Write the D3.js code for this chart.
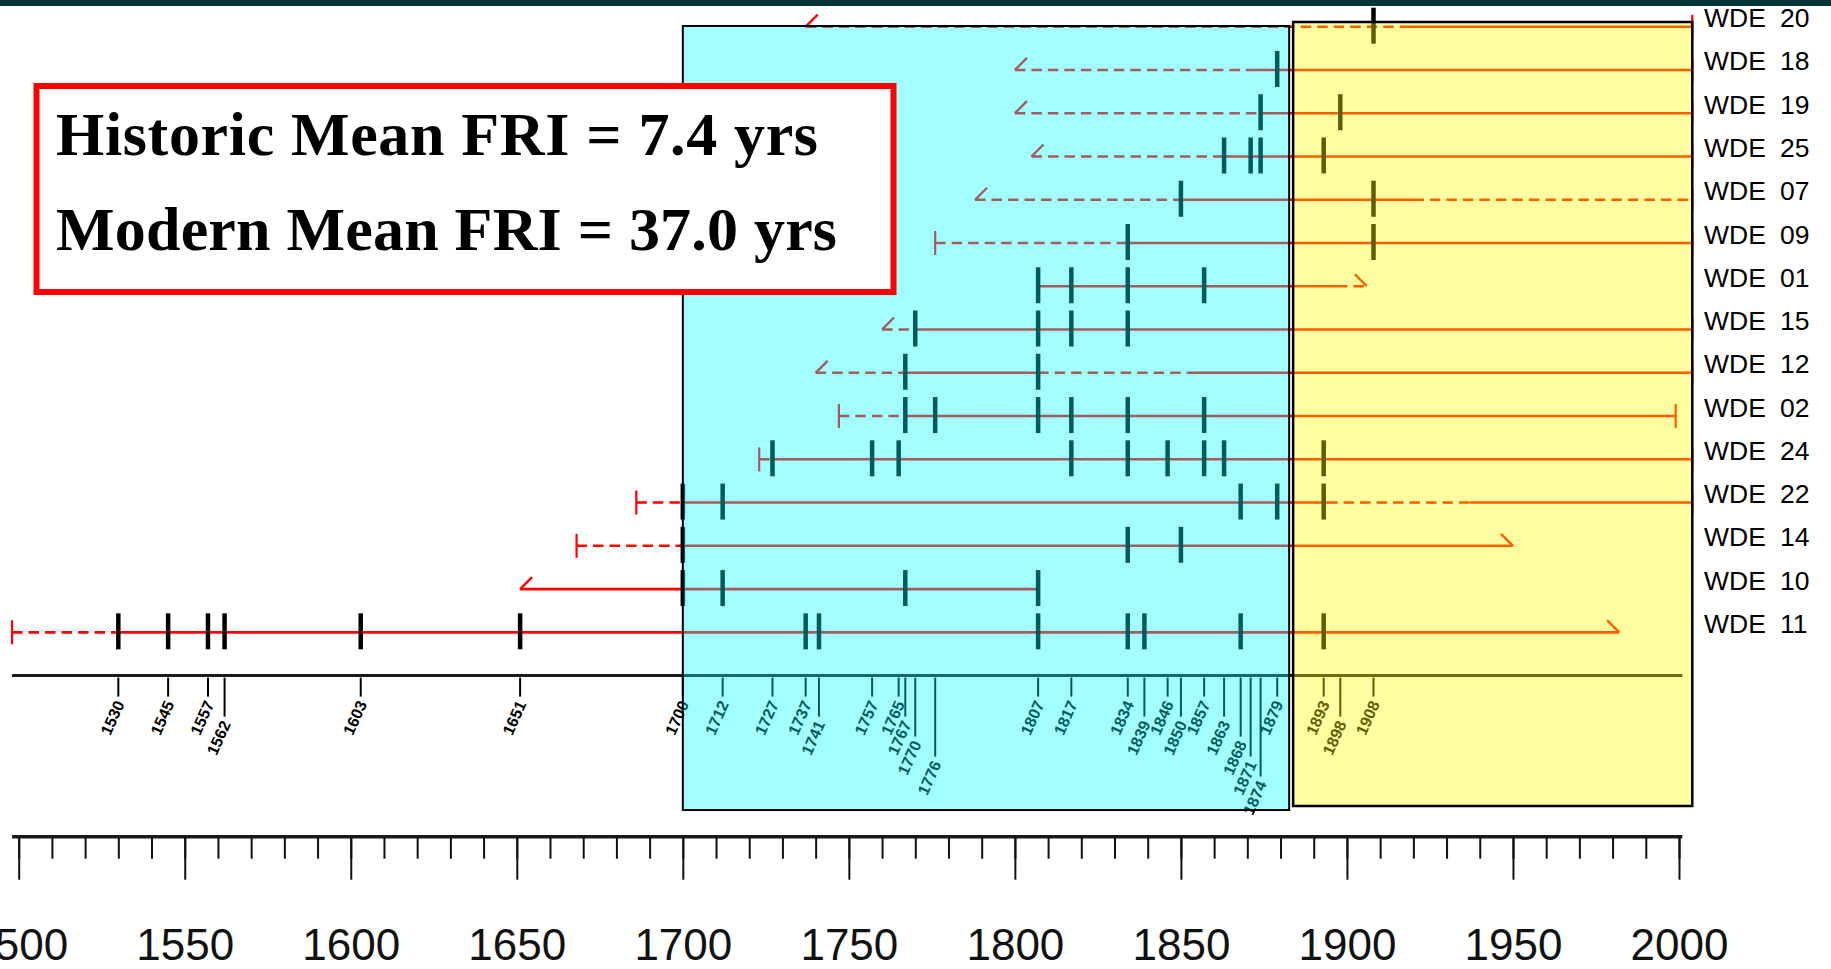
<!DOCTYPE html>
<html>
<head>
<meta charset="utf-8">
<script src="https://cdn.jsdelivr.net/npm/d3@7"></script>
<style>
  html, body { margin: 0; padding: 0; background: #ffffff; }
  svg { display: block; }
</style>
</head>
<body>
<svg id="chart" width="1831" height="969"></svg>
<script>
// ---------------- DATA ----------------
const series = ["20", "18", "19", "25", "07", "09", "01", "15", "12", "02", "24", "22", "14", "10", "11"];
const seriesPrefix = "WDE";

const innerYear = [1737, 1800, 1800, 1805, 1788, 1776, 1807, 1760, 1740, 1747, 1723, 1686, 1668, 1651, 1498];
const innerType = ["inner", "inner", "inner", "inner", "inner", "pith", "none", "inner", "inner", "pith", "pith", "pith", "pith", "inner", "pith"];
const outerYear = [2004, 2004, 2004, 2004, 2004, 2004, 1906, 2004, 2004, 1999, 2004, 2004, 1950, 1807, 1982];
const outerType = ["bark", "bark", "bark", "bark", "bark", "bark", "outer", "bark", "bark", "bark", "bark", "bark", "outer", "none", "outer"];

// non-recording (dashed) spans, per series
const nullSpans = [
  [[1737, 1918]],
  [[1800, 1872]],
  [[1800, 1874]],
  [[1805, 1863]],
  [[1788, 1850], [1920, 2004]],
  [[1776, 1834]],
  [[1897, 1906]],
  [[1760, 1770]],
  [[1740, 1767], [1807, 1852]],
  [[1747, 1767]],
  [[1723, 1727]],
  [[1686, 1700], [1894, 1937]],
  [[1668, 1700]],
  [],
  [[1498, 1530]]
];

// fire scar years, per series
const fireYears = [
  [1908],
  [1879],
  [1874, 1898],
  [1863, 1871, 1874, 1893],
  [1850, 1908],
  [1834, 1908],
  [1807, 1817, 1834, 1857],
  [1770, 1807, 1817, 1834],
  [1767, 1807],
  [1767, 1776, 1807, 1817, 1834, 1857],
  [1727, 1757, 1765, 1817, 1834, 1846, 1857, 1863, 1893],
  [1700, 1712, 1868, 1879, 1893],
  [1700, 1834, 1850],
  [1700, 1712, 1767, 1807],
  [1530, 1545, 1557, 1562, 1603, 1651, 1737, 1741, 1807, 1834, 1839, 1868, 1893]
];

const axisYears = [1500, 2000];
const compositeSpan = [1498, 2001];
const historicPeriod = [1700, 1882.6];
const modernPeriod = [1883.8, 2004];
const statLines = ["Historic Mean FRI = 7.4 yrs", "Modern Mean FRI = 37.0 yrs"];

// ---------------- CHART ----------------
const svg = d3.select("#chart");
const W = 1831, H = 969;

const x = d3.scaleLinear().domain(axisYears).range([18.7, 1679]);
const rowKeys = series.concat(["composite"]);
const y = d3.scalePoint().domain(rowKeys).range([26.7, 675.6]);

const RED = "#ff0000";

// top dark band
svg.append("rect").attr("x", 0).attr("y", 0).attr("width", W).attr("height", 6).attr("fill", "#033538");

const gSeries = svg.append("g");

series.forEach((s, i) => {
  const yy = y(s);
  const g = gSeries.append("g");
  const a = innerYear[i], b = outerYear[i];
  const nulls = nullSpans[i];
  nulls.forEach(sp => {
    g.append("line")
      .attr("x1", x(sp[0])).attr("x2", x(sp[1]))
      .attr("y1", yy).attr("y2", yy)
      .attr("stroke", RED).attr("stroke-width", 2.6)
      .attr("stroke-dasharray", "10.5,6");
  });
  const sorted = nulls.slice().sort((p, q) => p[0] - q[0]);
  let cur = a;
  const solids = [];
  sorted.forEach(sp => {
    if (sp[0] > cur) solids.push([cur, sp[0]]);
    cur = Math.max(cur, sp[1]);
  });
  if (cur < b) solids.push([cur, b]);
  solids.forEach(sp => {
    g.append("line")
      .attr("x1", x(sp[0])).attr("x2", x(sp[1]))
      .attr("y1", yy).attr("y2", yy)
      .attr("stroke", RED).attr("stroke-width", 2.6);
  });
  if (innerType[i] === "pith") {
    g.append("line").attr("x1", x(a)).attr("x2", x(a)).attr("y1", yy - 12).attr("y2", yy + 12)
      .attr("stroke", RED).attr("stroke-width", 2.2);
  } else if (innerType[i] === "inner") {
    g.append("line").attr("x1", x(a)).attr("x2", x(a) + 12).attr("y1", yy).attr("y2", yy - 12)
      .attr("stroke", RED).attr("stroke-width", 2.4);
  }
  if (outerType[i] === "bark") {
    g.append("line").attr("x1", x(b)).attr("x2", x(b)).attr("y1", yy - 12).attr("y2", yy + 12)
      .attr("stroke", RED).attr("stroke-width", 2.2);
  } else if (outerType[i] === "outer") {
    g.append("line").attr("x1", x(b) - 12).attr("x2", x(b)).attr("y1", yy - 12).attr("y2", yy)
      .attr("stroke", RED).attr("stroke-width", 2.4);
  }
  g.selectAll("line.fire").data(fireYears[i]).enter().append("line")
    .attr("class", "fire")
    .attr("x1", d => x(d)).attr("x2", d => x(d))
    .attr("y1", yy - 19).attr("y2", yy + 17)
    .attr("stroke", "#000").attr("stroke-width", 4.5);
  const t = svg.append("text")
    .attr("x", 1704).attr("y", yy + 0.5)
    .attr("font-family", "'Liberation Sans', Arial, sans-serif")
    .attr("font-size", 26.5).attr("fill", "#000");
  t.append("tspan").text(seriesPrefix);
  t.append("tspan").attr("x", 1780).text(s);
});

// composite axis
const composite = Array.from(new Set(fireYears.flat())).sort((p, q) => p - q);
const levels = [];
composite.forEach((yr, k) => {
  if (k > 0 && yr - composite[k - 1] < 7) levels.push(levels[k - 1] % 5 + 1);
  else levels.push(1);
});
const yc = y("composite");
const gc = svg.append("g");
gc.append("line").attr("x1", x(compositeSpan[0])).attr("x2", x(compositeSpan[1]))
  .attr("y1", yc).attr("y2", yc).attr("stroke", "#1a1a1a").attr("stroke-width", 3);
composite.forEach((yr, k) => {
  const end = yc + 21 + (levels[k] - 1) * 20;
  gc.append("line").attr("x1", x(yr)).attr("x2", x(yr)).attr("y1", yc + 2).attr("y2", end)
    .attr("stroke", "#000").attr("stroke-width", 2);
  gc.append("text")
    .attr("transform", `translate(${x(yr) + 1.5},${end + 5}) rotate(-66)`)
    .attr("text-anchor", "end").attr("dominant-baseline", "central")
    .attr("font-family", "'Liberation Sans', Arial, sans-serif")
    .attr("font-size", 16).attr("font-weight", "bold").attr("fill", "#000")
    .text(yr);
});

// period overlays
svg.append("rect")
  .attr("x", x(historicPeriod[0])).attr("y", 26)
  .attr("width", x(historicPeriod[1]) - x(historicPeriod[0])).attr("height", 784)
  .attr("fill", "#00ffff").attr("fill-opacity", 0.36)
  .attr("stroke", "#000").attr("stroke-width", 2);
svg.append("rect")
  .attr("x", x(modernPeriod[0])).attr("y", 22)
  .attr("width", x(modernPeriod[1]) - x(modernPeriod[0])).attr("height", 784)
  .attr("fill", "#ffff00").attr("fill-opacity", 0.37)
  .attr("stroke", "#000").attr("stroke-width", 2.5);

// bottom time axis
const axisY = 836.7;
const minorTicks = d3.range(axisYears[0], axisYears[1] + 1, 10);
const majorTicks = d3.range(axisYears[0], axisYears[1] + 1, 50);
const gAx = svg.append("g").attr("transform", `translate(0,${axisY})`);
gAx.append("line").attr("x1", x(compositeSpan[0])).attr("x2", x(compositeSpan[1]))
  .attr("y1", 0).attr("y2", 0).attr("stroke", "#1a1a1a").attr("stroke-width", 3.5);
const minorAxis = d3.axisBottom(x).tickValues(minorTicks).tickSize(22).tickSizeOuter(0).tickFormat("");
const majorAxis = d3.axisBottom(x).tickValues(majorTicks).tickSize(43).tickSizeOuter(0)
  .tickPadding(49).tickFormat(d3.format("d"));
const gMinor = gAx.append("g").call(minorAxis);
const gMajor = gAx.append("g").call(majorAxis);
[gMinor, gMajor].forEach(g => {
  g.select(".domain").remove();
  g.selectAll(".tick line").attr("stroke", "#111").attr("stroke-width", 2);
});
gMajor.selectAll(".tick text")
  .attr("font-family", "'Liberation Sans', Arial, sans-serif")
  .attr("font-size", 44).attr("fill", "#111");

// statistics box
const gBox = svg.append("g");
gBox.append("rect").attr("x", 36.5).attr("y", 86).attr("width", 857).attr("height", 206)
  .attr("fill", "#ffffff").attr("stroke", "#ff0000").attr("stroke-width", 6);
const lens = [762, 781];
const bases = [154.5, 250];
statLines.forEach((s, i) => {
  gBox.append("text")
    .attr("x", 56).attr("y", bases[i])
    .attr("font-family", "'Liberation Serif', 'Times New Roman', serif")
    .attr("font-size", 62).attr("font-weight", "bold").attr("fill", "#000")
    .attr("textLength", lens[i]).attr("lengthAdjust", "spacing")
    .text(s);
});
</script>
</body>
</html>
